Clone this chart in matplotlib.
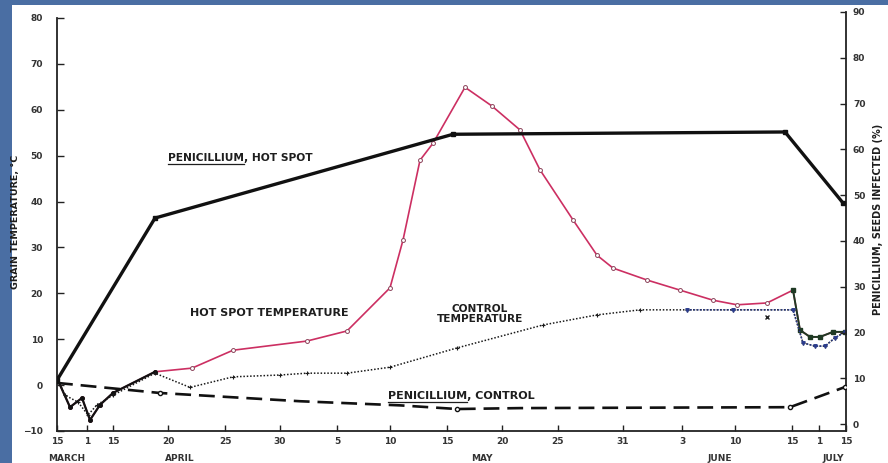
import matplotlib
matplotlib.use("Agg")
import matplotlib.pyplot as plt
from matplotlib.lines import Line2D
from matplotlib.patches import Rectangle


# x is a position along the (irregular) date axis of the original chart
TICK_POS = [0, 3.0, 5.6, 11.1, 16.8, 22.3, 28.0, 33.3, 39.0, 44.5, 50.1,
            56.6, 62.5, 67.8, 73.5, 76.2, 78.9]
TICK_LABELS = ["15", "1", "15", "20", "25", "30", "5", "10", "15", "20", "25",
               "31", "3", "10", "15", "1", "15"]
MONTHS = ["MARCH", "APRIL", "MAY", "JUNE", "JULY"]
MONTH_POS = [1.0, 12.3, 42.5, 66.3, 77.6]

# grain temperature, hot spot (deg C)
hot_x = [0, 1.3, 2.5, 3.3, 4.3, 5.6, 9.8, 13.5, 17.6, 25.0, 29.0, 33.3, 34.6,
         36.3, 37.6, 40.8, 43.5, 46.3, 48.3, 51.6, 54.0, 55.6, 59.0, 62.3,
         65.6, 68.0, 71.0, 73.6, 74.3, 75.3, 76.3, 77.6, 78.8]
hot_t = [1.5, -4.8, -2.8, -7.6, -4.3, -1.7, 2.9, 3.7, 7.6, 9.6, 11.8, 21.2,
         31.6, 49.0, 52.7, 64.9, 60.8, 55.6, 46.9, 36.0, 28.3, 25.5, 22.9,
         20.7, 18.5, 17.5, 17.9, 20.7, 12.0, 10.5, 10.5, 11.6, 11.6]

# grain temperature, control (deg C)
ctl_x = [0, 0.8, 2.1, 3.1, 4.0, 5.6, 9.8, 13.3, 17.6, 22.3, 25.0, 29.0, 33.3,
         40.0, 48.6, 54.0, 58.3, 63.0, 67.6, 73.6, 74.6, 75.8, 76.8, 77.8, 78.8]
ctl_t = [1.5, -2.2, -3.7, -6.5, -4.3, -2.2, 2.6, -0.5, 1.8, 2.2, 2.6, 2.6,
         3.9, 8.1, 13.1, 15.3, 16.4, 16.4, 16.4, 16.4, 9.2, 8.5, 8.5, 10.3,
         11.6]
ctl_extra_x = [71.0]
ctl_extra_t = [14.8]

# Penicillium, seeds infected (%)
pen_hot_x = [0, 9.8, 39.6, 72.8, 78.6]
pen_hot_p = [9.6, 45.0, 63.3, 63.8, 48.3]
pen_ctl_x = [0, 10.3, 24.3, 34.3, 40.0, 46.3, 73.3, 78.8]
pen_ctl_p = [9.0, 6.8, 5.0, 4.1, 3.3, 3.5, 3.7, 8.1]

TXT = "#1e1e1e"

fig = plt.figure(figsize=(8.88, 4.63), dpi=100)
fig.patch.set_facecolor("#4a6ea3")
fig.patches.append(Rectangle((12 / 888, 0), 876 / 888, 458 / 463,
                             transform=fig.transFigure, facecolor="white",
                             edgecolor="none", zorder=-5))

ax = fig.add_axes([57 / 888, 32 / 463, 789 / 888, 419 / 463])
ax.set_facecolor("none")
ax2 = ax.twinx()
ax2.set_facecolor("none")

ax.set_xlim(0, 78.9)
ax.set_ylim(-10, 81.3)
ax2.set_ylim(-1.5, 90.0)

for a in (ax, ax2):
    a.spines["top"].set_visible(False)
    for s in a.spines.values():
        s.set_linewidth(1.3)
        s.set_color("#222222")
ax.spines["right"].set_visible(False)
ax2.spines["left"].set_visible(False)
ax2.spines["bottom"].set_visible(False)
ax.spines["left"].set_bounds(-10, 80)
ax2.spines["right"].set_bounds(-1.5, 90)

ax.set_yticks(range(-10, 81, 10))
ax.set_yticklabels(["\u221210"] + [str(v) for v in range(0, 81, 10)])
ax2.set_yticks(range(0, 91, 10))
ax.set_xticks(TICK_POS)
ax.set_xticklabels(TICK_LABELS)

tick_font = dict(labelsize=6.5, labelcolor="#333333", color="#222222")
ax.tick_params(axis="y", direction="in", length=5, width=1, pad=10, **tick_font)
ax.tick_params(axis="x", direction="in", length=4, width=1, pad=4, **tick_font)
ax2.tick_params(axis="y", direction="in", length=4, width=1, pad=5, **tick_font)
for lab in ax.get_xticklabels() + ax.get_yticklabels() + ax2.get_yticklabels():
    lab.set_fontweight("bold")

for m, xp in zip(MONTHS, MONTH_POS):
    ax.text(xp, -0.066, m, transform=ax.get_xaxis_transform(), ha="center",
            va="center", fontsize=6.5, fontweight="bold", color="#333333")

ax.text(-0.052, 0.5, "GRAIN TEMPERATURE, \u00b0C", transform=ax.transAxes,
        rotation=90, ha="center", va="center", fontsize=6.8,
        fontweight="bold", color=TXT)
ax2.text(1.04, 0.505, "PENICILLIUM, SEEDS INFECTED (%)", transform=ax.transAxes,
         rotation=90, ha="center", va="center", fontsize=7,
         fontweight="bold", color=TXT)

# Penicillium series (right axis)
ax2.plot(pen_hot_x, pen_hot_p, color="#111111", lw=2.4, marker="s",
         markersize=3, zorder=4)
ax2.plot(pen_ctl_x, pen_ctl_p, color="#111111", lw=1.9, ls=(0, (6, 3)),
         marker="o", markersize=3, markerfacecolor="white",
         markevery=[1, 4, 6, 7], zorder=4)

# temperatures (left axis)
ax.plot(hot_x, hot_t, color="#cc2f62", lw=1.2, marker="o", markersize=2.8,
        markerfacecolor="white", markeredgecolor="#8a4058",
        markeredgewidth=0.7, zorder=3)
ax.plot(hot_x[:7], hot_t[:7], color="#111111", lw=1.6, marker="o",
        markersize=2.5, zorder=3)
ax.plot(hot_x[27:], hot_t[27:], color="#1f3a24", lw=1.4, marker="s",
        markersize=3, zorder=3)
ax.plot(ctl_x, ctl_t, color="#1a1a1a", lw=1.1, ls=(0, (1, 1.2)), marker="+",
        markersize=3, markeredgewidth=0.8, zorder=3)
ax.plot(ctl_x[17:], ctl_t[17:], color="#2b3c8c", lw=1.1, ls=(0, (1, 1.2)),
        marker="v", markersize=2.5, zorder=3)
ax.plot(ctl_extra_x, ctl_extra_t, ls="none", marker="x", markersize=3,
        color="#222222", zorder=3)

labels = [
    (11.1, 49.5, "PENICILLIUM, HOT SPOT", "left", 7.7),
    (13.3, 15.7, "HOT SPOT TEMPERATURE", "left", 8.0),
    (42.3, 15.5, "CONTROL\nTEMPERATURE", "center", 7.6),
    (33.1, -2.4, "PENICILLIUM, CONTROL", "left", 8.0),
]
texts = []
for x, y, s, ha, fs in labels:
    t = ax.text(x, y, s, ha=ha, va="center", fontsize=fs, fontweight="bold",
                color=TXT, linespacing=1.0)
    texts.append((t, s, fs))

# underline the genus name
fig.canvas.draw()
renderer = fig.canvas.get_renderer()
inv = fig.transFigure.inverted()
for t, s, fs in texts:
    if not s.startswith("PENICILLIUM"):
        continue
    tmp = ax.text(*t.get_position(), "PENICILLIUM", ha="left", va="center",
                  fontsize=fs, fontweight="bold")
    bb = tmp.get_window_extent(renderer)
    tmp.remove()
    (x0, y0), (x1, _) = inv.transform([(bb.x0, bb.y0 - 1), (bb.x1, bb.y0 - 1)])
    fig.add_artist(Line2D([x0, x1], [y0, y0], transform=fig.transFigure,
                          color=TXT, lw=0.9))

fig.savefig("out.png", dpi=100, facecolor=fig.get_facecolor())
